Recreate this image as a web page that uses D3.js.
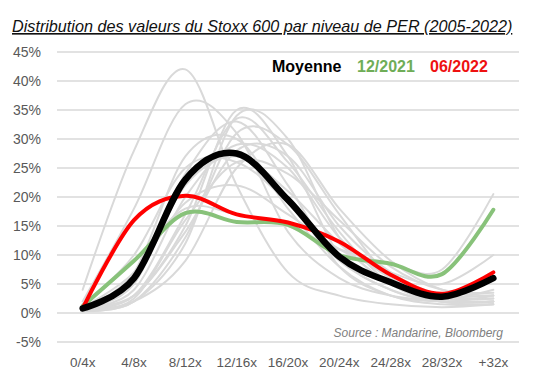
<!DOCTYPE html>
<html>
<head>
<meta charset="utf-8">
<script src="https://cdn.jsdelivr.net/npm/d3@7/dist/d3.min.js"></script>
<style>
  html, body { margin: 0; padding: 0; background: #fff; }
  svg { display: block; font-family: "Liberation Sans", Arial, sans-serif; }
</style>
</head>
<body>
<svg id="chart" width="539" height="392"></svg>
<script>
// PER buckets on the x axis, shares of Stoxx 600 stocks in %.
const CATEGORIES = ['0/4x', '4/8x', '8/12x', '12/16x', '16/20x', '20/24x', '24/28x', '28/32x', '+32x'];
const Y_TICKS = [-5, 0, 5, 10, 15, 20, 25, 30, 35, 40, 45];

const MOYENNE = [0.8, 6, 23, 27.5, 19.5, 9.7, 5.3, 2.8, 6];
const DEC_2021 = [1.2, 9, 17.2, 15.7, 15.2, 10, 8.5, 6.7, 17.8];
const JUN_2022 = [0.8, 16, 20.2, 17, 15.6, 12.3, 6.6, 3.3, 7];

// one grey line per past year-end snapshot
const HISTORY = [
  [4, 28, 42, 22, 7, 3, 1.5, 1, 1.5],
  [2, 18, 36, 31, 14, 6, 3, 2, 2],
  [0.5, 3, 15, 35, 27, 10, 4, 2, 2],
  [0.3, 2, 12, 34, 30, 13, 5, 2.5, 2.5],
  [1, 5, 24, 33, 22, 8, 3, 1.5, 1.5],
  [0.8, 3, 17, 33.5, 26, 14, 5, 2, 2],
  [1, 4, 20, 29, 25, 13, 6, 3, 3],
  [1, 7, 27, 30, 18, 8, 3, 2, 2],
  [1, 9, 18, 17, 15, 11, 8.5, 7.5, 20.5],
  [1, 7, 19, 22, 17, 11, 7, 5, 10],
  [0.5, 2, 9, 25, 29, 18, 9, 4, 3],
  [0.5, 2, 13, 31, 29, 17, 6, 2, 1.5],
  [1, 3, 14, 28, 27, 15, 7, 3, 2.5],
  [0.5, 2.5, 16, 26, 24, 16, 8, 4, 3.5],
  [1, 6, 22, 27, 21, 12, 5, 2.5, 4],
  [1.5, 10, 25, 26, 19, 9, 4, 2, 3],
];

const svg = d3.select('#chart');

const x = d3.scalePoint().domain(CATEGORIES).range([57, 519]).padding(0.5);
const y = d3.scaleLinear().domain([-5, 45]).range([342, 52]);

// title
svg.append('text')
  .attr('x', 12)
  .attr('y', 32)
  .attr('fill', '#111')
  .style('font-size', '16.2px')
  .style('font-style', 'italic')
  .style('text-decoration', 'underline')
  .text('Distribution des valeurs du Stoxx 600 par niveau de PER (2005-2022)');

// gridlines
svg.append('g')
  .selectAll('line')
  .data(Y_TICKS)
  .join('line')
  .attr('x1', 57)
  .attr('x2', 519)
  .attr('y1', (d) => y(d))
  .attr('y2', (d) => y(d))
  .attr('stroke', '#d9d9d9')
  .attr('stroke-width', 1.5);

// y labels
svg.append('g')
  .selectAll('text')
  .data(Y_TICKS)
  .join('text')
  .attr('x', 41)
  .attr('y', (d) => y(d))
  .attr('dy', '0.35em')
  .attr('text-anchor', 'end')
  .attr('fill', '#595959')
  .style('font-size', '14px')
  .text((d) => `${d}%`);

// x labels
svg.append('g')
  .selectAll('text')
  .data(CATEGORIES)
  .join('text')
  .attr('x', (d) => x(d))
  .attr('y', 367)
  .attr('text-anchor', 'middle')
  .attr('fill', '#595959')
  .style('font-size', '13.5px')
  .text((d) => d);

const line = d3.line()
  .x((d, i) => x(CATEGORIES[i]))
  .y((d) => y(d))
  .curve(d3.curveCardinal.tension(0));

const plot = svg.append('g').attr('fill', 'none').attr('stroke-linecap', 'round').attr('stroke-linejoin', 'round');

plot.selectAll('path.hist')
  .data(HISTORY)
  .join('path')
  .attr('class', 'hist')
  .attr('d', line)
  .attr('stroke', '#d9d9d9')
  .attr('stroke-width', 2);

plot.append('path').attr('d', line(DEC_2021)).attr('stroke', '#88c27a').attr('stroke-width', 4);
plot.append('path').attr('d', line(JUN_2022)).attr('stroke', '#ff0000').attr('stroke-width', 4);
plot.append('path').attr('d', line(MOYENNE)).attr('stroke', '#000').attr('stroke-width', 6.5);

// legend
const legend = [
  { label: 'Moyenne', color: '#000', x: 272 },
  { label: '12/2021', color: '#6fad57', x: 357 },
  { label: '06/2022', color: '#ee1111', x: 430 },
];
svg.append('g')
  .selectAll('text')
  .data(legend)
  .join('text')
  .attr('x', (d) => d.x)
  .attr('y', 72)
  .attr('fill', (d) => d.color)
  .style('font-size', '16px')
  .style('font-weight', 'bold')
  .text((d) => d.label);

// source note
svg.append('text')
  .attr('x', 503)
  .attr('y', 337)
  .attr('text-anchor', 'end')
  .attr('fill', '#808080')
  .style('font-size', '12px')
  .style('font-style', 'italic')
  .text('Source : Mandarine, Bloomberg');
</script>
</body>
</html>
